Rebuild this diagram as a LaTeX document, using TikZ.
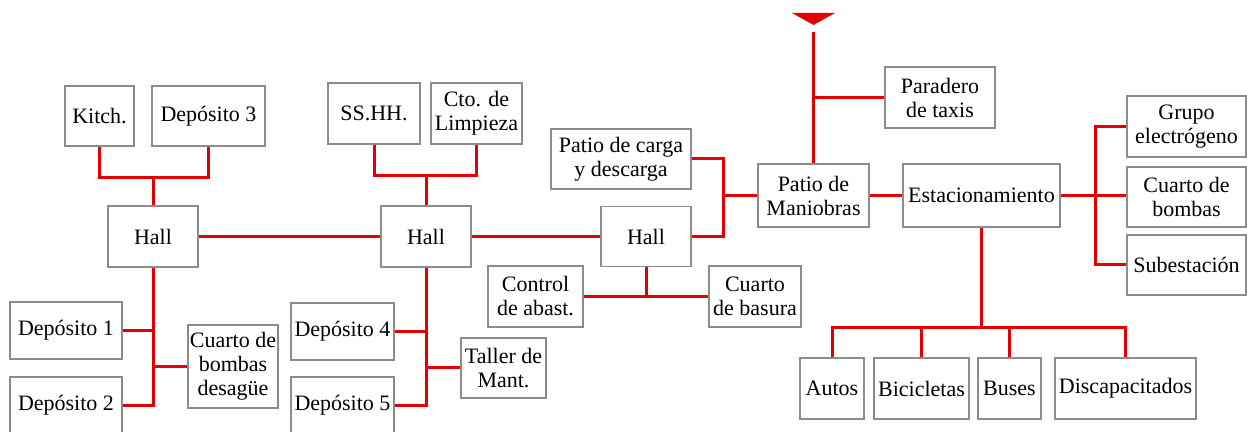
\documentclass[tikz,border=0pt]{standalone}
\usepackage{fontspec}
\setmainfont{Liberation Serif}
\usepackage{xcolor}
\usepackage{tikz}
\usetikzlibrary{calc}
\definecolor{WireRed} {HTML}{E30000}
\definecolor{BoxGrey} {HTML}{8C8C8C}

\begin{document}
\begin{tikzpicture}[
  x=0.5pt, y=-0.5pt,
  font=\fontsize{11}{12}\selectfont,
  room/.style={draw=BoxGrey, line width=0.8pt, align=center, inner sep=1pt},
  wire/.style={draw=WireRed, line width=1.5pt}
]
  \clip (0,0) rectangle (1247,432);

  % left wing
  \node[room, minimum width=34.5pt, minimum height=30pt]   (kitch)   at (99.5,116)  {Kitch.};
  \node[room, minimum width=56.5pt, minimum height=30pt]   (dep3)    at (208.5,116) {Depósito 3};
  \node[room, minimum width=45pt,   minimum height=30.5pt] (hall1)   at (153,236.5) {Hall};
  \node[room, minimum width=56pt,   minimum height=28.5pt] (dep1)    at (66,330.5)  {Depósito 1};
  \node[room, minimum width=56pt,   minimum height=28.5pt] (dep2)    at (66,405.5)  {Depósito 2};
  \node[room, minimum width=45pt,   minimum height=41.5pt] (desague) at (233,366.5) {Cuarto de\\bombas\\desagüe};

  \draw[wire] (kitch.south) -- ++(0,31) coordinate (k1) -| (dep3.south);
  \draw[wire] (hall1.north) -- (hall1.north |- k1);
  \draw[wire] (hall1.south) |- (dep2.east);
  \draw[wire] (dep1.east) -- (dep1.east -| hall1.south);
  \draw[wire] (desague.west) -- (desague.west -| hall1.south);

  % middle wing
  \node[room, minimum width=46pt,   minimum height=30.5pt] (sshh)    at (374,113.5)   {SS.HH.};
  \node[room, minimum width=45.5pt, minimum height=30.5pt] (limpieza) at (476.5,113.5) {Cto. de\\Limpieza};
  \node[room, minimum width=45pt,   minimum height=30.5pt] (hall2)   at (426,236.5)   {Hall};
  \node[room, minimum width=51.5pt, minimum height=28.5pt] (dep4)    at (342.5,331.5) {Depósito 4};
  \node[room, minimum width=51.5pt, minimum height=28.5pt] (dep5)    at (342.5,405.5) {Depósito 5};
  \node[room, minimum width=42.5pt, minimum height=30pt]   (taller)  at (503.5,368)   {Taller de\\Mant.};

  \draw[wire] (sshh.south) -- ++(0,31) coordinate (s1) -| (limpieza.south);
  \draw[wire] (hall2.north) -- (hall2.north |- s1);
  \draw[wire] (hall2.south) |- (dep5.east);
  \draw[wire] (dep4.east) -- (dep4.east -| hall2.south);
  \draw[wire] (taller.west) -- (taller.west -| hall2.south);
  \draw[wire] (hall1.east) -- (hall2.west);

  % service hall
  \node[room, minimum width=70pt,   minimum height=30pt]   (carga)   at (621,159)     {Patio de carga\\y descarga};
  \node[room, minimum width=45pt,   minimum height=30pt]   (hall3)   at (646,236.5)   {Hall};
  \node[room, minimum width=47.5pt, minimum height=30.5pt] (control) at (535.5,296.5) {Control\\de abast.};
  \node[room, minimum width=46pt,   minimum height=30.5pt] (basura)  at (755,296.5)   {Cuarto\\de basura};

  \draw[wire] (hall2.east) -- (hall3.west);
  \draw[wire] (control.east) -- (basura.west);
  \draw[wire] (hall3.south) -- (hall3.south |- control.east);

  % maneuvering yard and entrance
  \node[room, minimum width=55.5pt, minimum height=31.5pt] (maniobras) at (813.5,195.5) {Patio de\\Maniobras};
  \node[room, minimum width=55pt,   minimum height=30.5pt] (paradero)  at (940,97.5)    {Paradero\\de taxis};

  \draw[wire] (hall3.east) -- ++(32,0) coordinate (c1) |- (carga.east);
  \draw[wire] (maniobras.west) -- (maniobras.west -| c1);

  \fill[WireRed] (792,13) -- (835,13) -- (813.5,25) -- cycle;
  \coordinate (entrada) at (813.5,32);
  \draw[wire] (entrada) -- (maniobras.north);
  \draw[wire] (paradero.west) -- (paradero.west -| maniobras.north);

  % parking
  \node[room, minimum width=78.5pt, minimum height=31.5pt] (estac)   at (981.5,195.5) {Estacionamiento};
  \node[room, minimum width=59.5pt, minimum height=30.5pt] (grupo)   at (1186.5,126.5) {Grupo\\electrógeno};
  \node[room, minimum width=59.5pt, minimum height=30pt]   (bombasE) at (1186.5,197)   {Cuarto de\\bombas};
  \node[room, minimum width=59.5pt, minimum height=30pt]   (subest)  at (1186.5,265)   {Subestación};

  \draw[wire] (maniobras.east) -- (estac.west);
  \draw[wire] (estac.east) -- ++(35,0) coordinate (e1) -- (bombasE.west |- estac.east);
  \draw[wire] (grupo.west) -| (e1) |- (subest.west);

  \node[room, minimum width=32pt,   minimum height=30.5pt] (autos)  at (832,388.5)    {Autos};
  \node[room, minimum width=47.5pt, minimum height=30.5pt] (bici)   at (921.5,388.5)  {Bicicletas};
  \node[room, minimum width=31.5pt, minimum height=30.5pt] (buses)  at (1009.5,388.5) {Buses};
  \node[room, minimum width=70.5pt, minimum height=30.5pt] (discap) at (1125.5,388.5) {Discapacitados};

  \draw[wire] (estac.south) -- ++(0,100) coordinate (e2);
  \draw[wire] (autos.north) |- (e2) -| (discap.north);
  \draw[wire] (bici.north) -- (bici.north |- e2);
  \draw[wire] (buses.north) -- (buses.north |- e2);
\end{tikzpicture}
\end{document}
